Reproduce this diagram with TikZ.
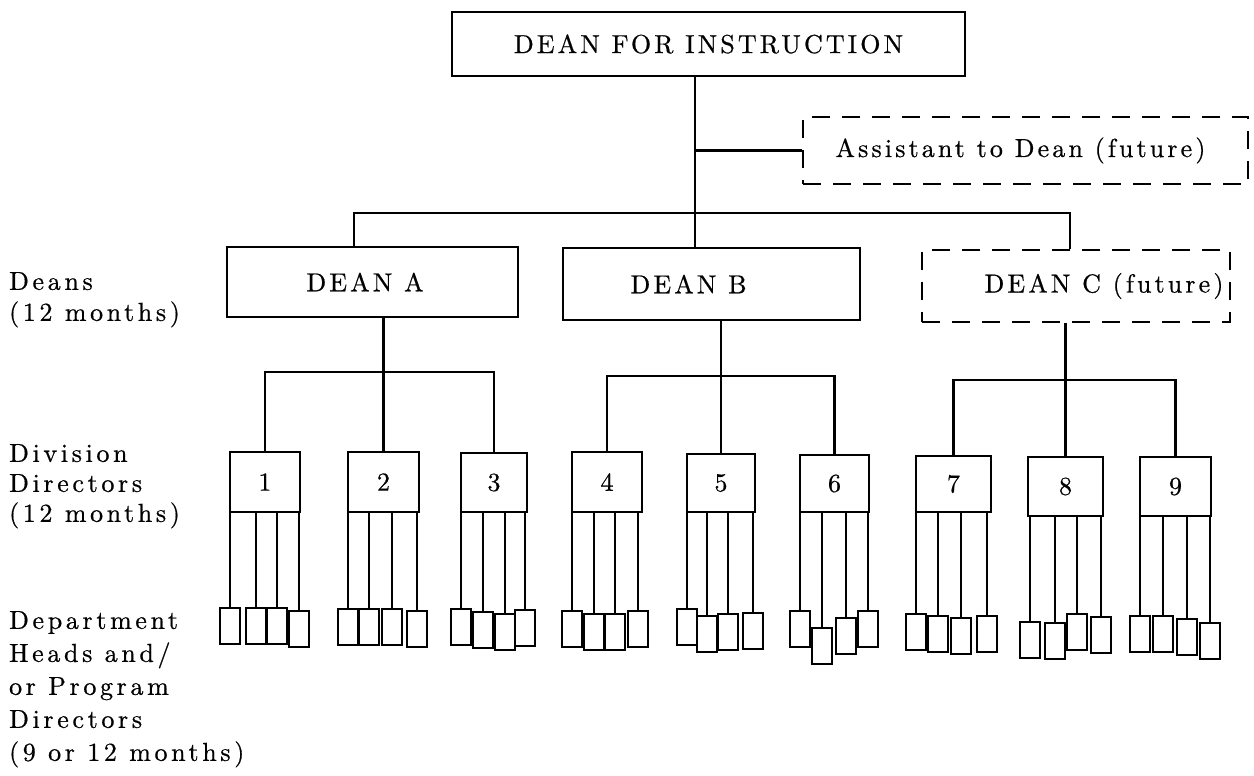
\documentclass[tikz,border=0pt]{standalone}
\usepackage{fontspec}
\setmainfont{lmroman10-regular}[Extension=.otf, LetterSpace=12, FakeBold=0.6]
\newfontfamily\lblfont{lmroman10-regular}[Extension=.otf, LetterSpace=14, FakeBold=0.6]
\begin{document}
\begin{tikzpicture}[x=1pt,y=-1pt, line width=2.2pt,
  every node/.style={font=\fontsize{26}{31}\selectfont, inner sep=0pt},
  box/.style={draw, line width=2.2pt},
  dbox/.style={draw, line width=2.2pt, dash pattern=on 18pt off 12pt},
  sbox/.style={draw, line width=2.2pt, minimum width=20pt, minimum height=36pt, anchor=north},
  lbl/.style={anchor=north west, align=left}]
\useasboundingbox (0,0) rectangle (1254,776);

% top level
\node[box, minimum width=513pt, minimum height=64pt] (top) at (708.5,44) {DEAN FOR INSTRUCTION};
\node[dbox, minimum width=445pt, minimum height=67pt] (asst) at (1025.5,150.5) {Assistant to Dean (future)\hspace*{10pt}};

% deans
\node[box, minimum width=291pt, minimum height=70pt] (deanA) at (372.5,282) {DEAN A\hspace*{15pt}};
\node[box, minimum width=297pt, minimum height=72pt] (deanB) at (711.5,284) {DEAN B\hspace*{46pt}};
\node[dbox, minimum width=308pt, minimum height=72pt] (deanC) at (1076,286) {\hspace*{56pt}DEAN C (future)};

% labels
\node[lbl, font=\fontsize{26}{31}\lblfont] (l1) at (8,271) {Deans\\(12 months)};
\node[lbl, font=\fontsize{26}{30}\lblfont] (l2) at (8,443) {Division\\Directors\\(12 months)};
\node[lbl, font=\fontsize{26}{33}\lblfont] (l3) at (8,610) {Department\\Heads and/\\or Program\\Directors\\(9 or 12 months)};

% connectors top
\coordinate (sp) at (695,213);
\coordinate (bl) at (354,213);
\coordinate (br) at (1070,213);
\draw (sp |- top.south) -- (sp |- deanB.north);
\draw (sp |- asst.west) -- (asst.west);
\draw (bl |- deanA.north) -- (bl) -- (br) -- (br |- deanC.north);

% division directors
\node[box, minimum width=70pt, minimum height=60pt] (d1) at (265,482) {1};
\node[box, minimum width=71pt, minimum height=60pt] (d2) at (383.5,482) {2};
\node[box, minimum width=66pt, minimum height=59pt] (d3) at (494,482.5) {3};
\node[box, minimum width=70pt, minimum height=60pt] (d4) at (607,482) {4};
\node[box, minimum width=68pt, minimum height=58pt] (d5) at (721,483) {5};
\node[box, minimum width=69pt, minimum height=57pt] (d6) at (834.5,483.5) {6};
\node[box, minimum width=75pt, minimum height=56pt] (d7) at (953.5,484) {7};
\node[box, minimum width=75pt, minimum height=59pt] (d8) at (1065.5,486.5) {8};
\node[box, minimum width=71pt, minimum height=59pt] (d9) at (1175.5,486.5) {9};

\coordinate (ba) at (0,372);
\coordinate (bb) at (0,376);
\coordinate (bc) at (0,380);
\draw (d1.north) -- (d1.north |- ba) -- (d3.north |- ba) -- (d3.north);
\draw (d2.north |- deanA.south) -- (d2.north);
\draw (d4.north) -- (d4.north |- bb) -- (d6.north |- bb) -- (d6.north);
\draw (d5.north |- deanB.south) -- (d5.north);
\draw (d7.north) -- (d7.north |- bc) -- (d9.north |- bc) -- (d9.north);
\draw (d8.north |- deanC.south) -- (d8.north);

% department heads
\foreach \k/\x/\t in {1/230/607,2/256/607,3/277/607,4/299/610}
  {\node[sbox] (s1\k) at (\x,\t) {}; \draw (s1\k.north |- d1.south) -- (s1\k.north);}
\foreach \k/\x/\t in {1/348/608,2/369/608,3/392/608,4/417/610}
  {\node[sbox] (s2\k) at (\x,\t) {}; \draw (s2\k.north |- d2.south) -- (s2\k.north);}
\foreach \k/\x/\t in {1/461/608,2/483/611,3/505/613,4/525/609}
  {\node[sbox] (s3\k) at (\x,\t) {}; \draw (s3\k.north |- d3.south) -- (s3\k.north);}
\foreach \k/\x/\t in {1/572/610,2/594/613,3/615/613,4/638/610}
  {\node[sbox] (s4\k) at (\x,\t) {}; \draw (s4\k.north |- d4.south) -- (s4\k.north);}
\foreach \k/\x/\t in {1/687/608,2/707/615,3/728/613,4/753/612}
  {\node[sbox] (s5\k) at (\x,\t) {}; \draw (s5\k.north |- d5.south) -- (s5\k.north);}
\foreach \k/\x/\t in {1/800/610,2/822/627,3/846/617,4/868/610}
  {\node[sbox] (s6\k) at (\x,\t) {}; \draw (s6\k.north |- d6.south) -- (s6\k.north);}
\foreach \k/\x/\t in {1/916/613,2/938/615,3/961/617,4/987/615}
  {\node[sbox] (s7\k) at (\x,\t) {}; \draw (s7\k.north |- d7.south) -- (s7\k.north);}
\foreach \k/\x/\t in {1/1030/621,2/1055/622,3/1077/613,4/1101/616}
  {\node[sbox] (s8\k) at (\x,\t) {}; \draw (s8\k.north |- d8.south) -- (s8\k.north);}
\foreach \k/\x/\t in {1/1140/615,2/1163/615,3/1187/618,4/1210/622}
  {\node[sbox] (s9\k) at (\x,\t) {}; \draw (s9\k.north |- d9.south) -- (s9\k.north);}
\end{tikzpicture}
\end{document}
